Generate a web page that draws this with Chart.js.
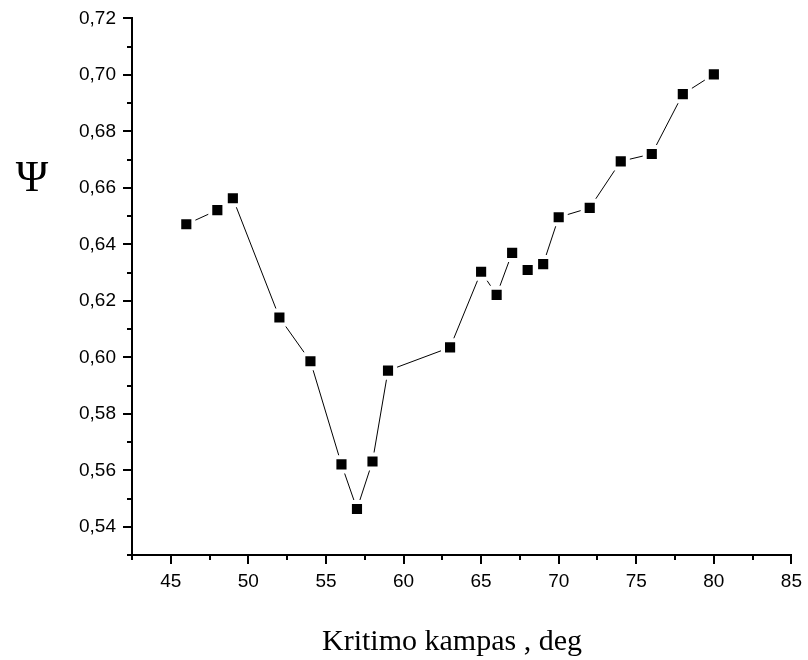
<!DOCTYPE html>
<html>
<head>
<meta charset="utf-8">
<script src="https://cdn.jsdelivr.net/npm/chart.js@4"></script>
<style>
  html, body { margin: 0; padding: 0; background: #fff; }
  #wrap { width: 808px; height: 660px; position: relative; }
</style>
</head>
<body>
<div id="wrap"><canvas id="psiChart"></canvas></div>
<script>
// kritimo kampas (deg)
const angles = [46, 48, 49, 52, 54, 56, 57, 58, 59, 63, 65, 66, 67, 68, 69, 70, 72, 74, 76, 78, 80];
// Psi reikšmės
const psi = [0.6471, 0.6521, 0.6563, 0.6141, 0.5986, 0.5621, 0.5463, 0.5631, 0.5953, 0.6035,
             0.6303, 0.6221, 0.6370, 0.6309, 0.6330, 0.6496, 0.6529, 0.6694, 0.6720, 0.6932, 0.7002];

// ašių žymės
const xTicks = [45, 50, 55, 60, 65, 70, 75, 80, 85];
const xMinor = [42.5, 47.5, 52.5, 57.5, 62.5, 67.5, 72.5, 77.5, 82.5];
const yTicks = [0.54, 0.56, 0.58, 0.60, 0.62, 0.64, 0.66, 0.68, 0.70, 0.72];
const yMinor = [0.53, 0.55, 0.57, 0.59, 0.61, 0.63, 0.65, 0.67, 0.69, 0.71];

const xTitle = 'Kritimo kampas , deg';
const yTitle = 'Ψ';

const points = angles.map((a, i) => ({ x: a, y: psi[i] }));

// mažos žymės ir ašių pavadinimai
const extras = {
  id: 'extras',
  afterDraw(chart) {
    const ctx = chart.ctx;
    const xs = chart.scales.x;
    const ys = chart.scales.y;
    const area = chart.chartArea;
    ctx.save();
    ctx.strokeStyle = '#000';
    ctx.lineWidth = 2;
    ctx.beginPath();
    xMinor.forEach(v => {
      const px = Math.round(xs.getPixelForValue(v));
      ctx.moveTo(px, area.bottom);
      ctx.lineTo(px, area.bottom + 5);
    });
    yMinor.forEach(v => {
      const py = Math.round(ys.getPixelForValue(v));
      ctx.moveTo(area.left - 5, py);
      ctx.lineTo(area.left, py);
    });
    ctx.stroke();

    ctx.fillStyle = '#000';
    ctx.textAlign = 'center';
    ctx.textBaseline = 'middle';
    ctx.font = '30px "Liberation Serif", "Times New Roman", serif';
    ctx.fillText(xTitle, 452, 642);
    ctx.font = '44px "Liberation Serif", "Times New Roman", serif';
    ctx.fillText(yTitle, 32, 179);
    ctx.restore();
  }
};

const data = {
  datasets: [{
    data: points,
    showLine: true,
    borderColor: '#000',
    borderWidth: 1,
    pointStyle: 'rect',
    pointRadius: 10,
    pointBackgroundColor: '#000',
    pointBorderColor: '#fff',
    pointBorderWidth: 4,
    pointHoverRadius: 10
  }]
};

const tickFont = { family: '"Liberation Sans", Arial, sans-serif', size: 19 };

const config = {
  type: 'scatter',
  data,
  options: {
    responsive: false,
    animation: false,
    layout: { padding: { left: 0, top: 17, right: 10, bottom: 0 } },
    plugins: { legend: { display: false }, tooltip: { enabled: false } },
    scales: {
      x: {
        type: 'linear',
        min: 42.5,
        max: 85,
        afterBuildTicks: s => { s.ticks = xTicks.map(v => ({ value: v })); },
        afterFit: s => { s.height = 105; },
        ticks: { color: '#000', font: tickFont, padding: 6, maxRotation: 0, callback: v => String(v) },
        grid: { drawOnChartArea: false, tickLength: 9, lineWidth: 2, color: '#000' },
        border: { color: '#000', width: 2 }
      },
      y: {
        min: 0.53,
        max: 0.72,
        afterBuildTicks: s => { s.ticks = yTicks.map(v => ({ value: v })); },
        afterFit: s => { s.width = 132; },
        ticks: { color: '#000', font: tickFont, padding: 7, callback: v => v.toFixed(2).replace('.', ',') },
        grid: { drawOnChartArea: false, tickLength: 9, lineWidth: 2, color: '#000' },
        border: { color: '#000', width: 2 }
      }
    }
  },
  plugins: [extras]
};

const canvas = document.getElementById('psiChart');
canvas.width = 808;
canvas.height = 660;
const chart = new Chart(canvas, config);
</script>
</body>
</html>
